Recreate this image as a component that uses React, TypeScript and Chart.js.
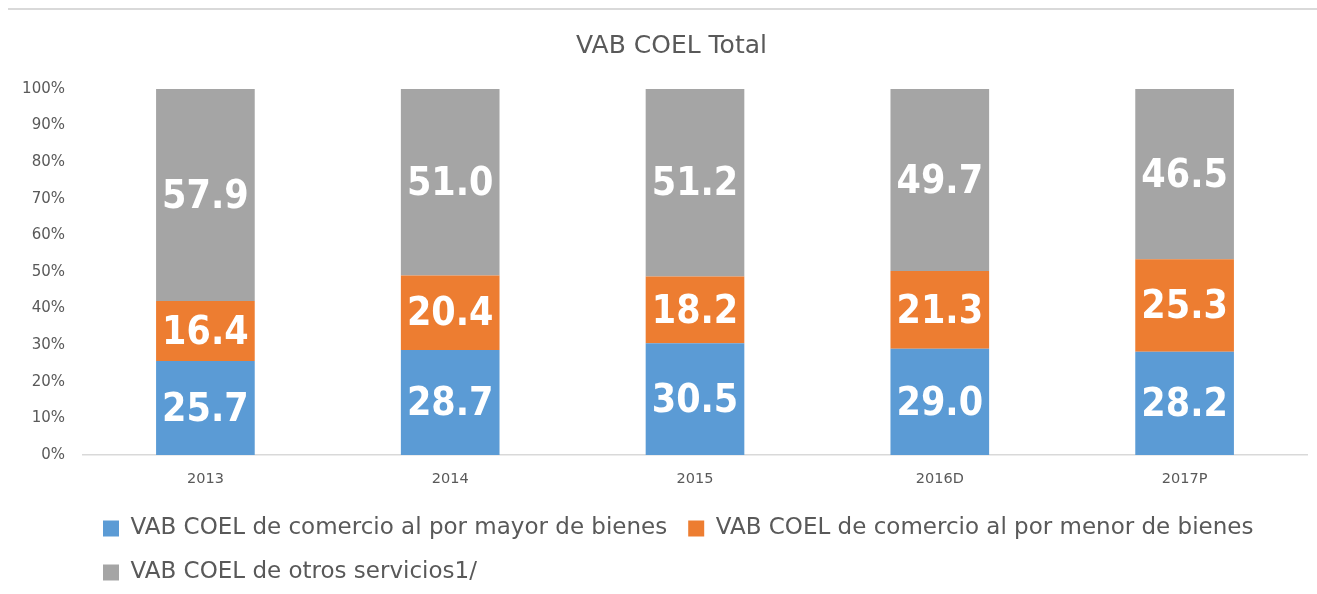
import { useEffect, useRef } from "react";
import { Chart, registerables } from "chart.js";

Chart.register(...registerables);

const title = "VAB COEL Total";
const categories = ["2013", "2014", "2015", "2016D", "2017P"];
const seriesNames = [
  "VAB COEL de comercio al por mayor de bienes",
  "VAB COEL de comercio al por menor de bienes",
  "VAB COEL de otros servicios1/",
];
const mayor = [25.7, 28.7, 30.5, 29.0, 28.2];
const menor = [16.4, 20.4, 18.2, 21.3, 25.3];
const otros = [57.9, 51.0, 51.2, 49.7, 46.5];
const colors = ["#5B9BD5", "#ED7D31", "#A5A5A5"];
const yMax = 100;
const yStep = 10;

const rawSeries = [mayor, menor, otros];
const totals = categories.map((_, i) => rawSeries.reduce((s, arr) => s + arr[i], 0));

const TEXT = "#595959";
const FONT = "'DejaVu Sans', sans-serif";

const valueLabels = {
  id: "valueLabels",
  afterDatasetsDraw(chart: any) {
    const ctx = chart.ctx;
    ctx.save();
    ctx.fillStyle = "#FFFFFF";
    ctx.font = "bold 39px 'DejaVu Sans Condensed', 'DejaVu Sans', sans-serif";
    ctx.textAlign = "center";
    ctx.textBaseline = "middle";
    chart.data.datasets.forEach((ds: any, di: number) => {
      const meta = chart.getDatasetMeta(di);
      meta.data.forEach((bar: any, i: number) => {
        const raw = ds.raw[i];
        const cy = (bar.y + bar.base) / 2;
        ctx.fillText(raw.toFixed(1), bar.x, cy + 2.5);
      });
    });
    ctx.restore();
  },
};

const boxShift = {
  id: "boxShift",
  afterLayout(chart: any) {
    if (chart.legend) {
      chart.legend.left += 74;
      chart.legend.right += 74;
    }
    if (chart.titleBlock) {
      chart.titleBlock.left += 14;
      chart.titleBlock.right += 14;
    }
  },
};

export default function App() {
  const ref = useRef<HTMLCanvasElement | null>(null);

  useEffect(() => {
    if (!ref.current) return;
    const chart = new Chart(ref.current, {
      type: "bar",
      data: {
        labels: categories,
        datasets: rawSeries.map((arr, k) => ({
          label: seriesNames[k],
          data: arr.map((v, i) => (v / totals[i]) * 100),
          raw: arr,
          backgroundColor: colors[k],
          borderWidth: 0,
          barPercentage: 0.403,
          categoryPercentage: 1,
        })) as any,
      },
      options: {
        animation: false,
        responsive: false,
        maintainAspectRatio: false,
        layout: { padding: { left: 0, right: 10, top: 0, bottom: 0 } },
        plugins: {
          title: {
            display: true,
            text: title,
            color: TEXT,
            font: { family: FONT, size: 25, weight: "normal" },
            padding: { top: 21, bottom: 28 },
          },
          legend: {
            display: true,
            position: "bottom",
            align: "start",
            maxHeight: 100,
            labels: {
              color: TEXT,
              font: { family: FONT, size: 23 },
              boxWidth: 16,
              boxHeight: 16,
              padding: 21,
            },
          },
          tooltip: { enabled: false },
        },
        scales: {
          x: {
            stacked: true,
            grid: { display: false, drawTicks: false },
            border: { display: true, color: "#D9D9D9", width: 1.5 },
            ticks: {
              color: TEXT,
              font: { family: FONT, size: 14.5 },
              padding: 16,
            },
            afterFit(scale: any) {
              scale.height = 41;
            },
          },
          y: {
            stacked: true,
            min: 0,
            max: yMax,
            grid: { display: false, drawTicks: false },
            border: { display: false },
            ticks: {
              stepSize: yStep,
              color: TEXT,
              font: { family: FONT, size: 15 },
              padding: 18,
              callback: (v: any) => `${v}%`,
            },
            afterFit(scale: any) {
              scale.width = 75;
            },
          },
        },
      },
      plugins: [valueLabels, boxShift],
    });
    return () => chart.destroy();
  }, []);

  return (
    <div
      style={{
        position: "absolute",
        left: 8,
        top: 8,
        width: 1309,
        height: 586,
        overflow: "hidden",
        borderTop: "2px solid #D9D9D9",
        background: "#FFFFFF",
      }}
    >
      <canvas ref={ref} width={1309} height={584} style={{ display: "block" }} />
    </div>
  );
}
